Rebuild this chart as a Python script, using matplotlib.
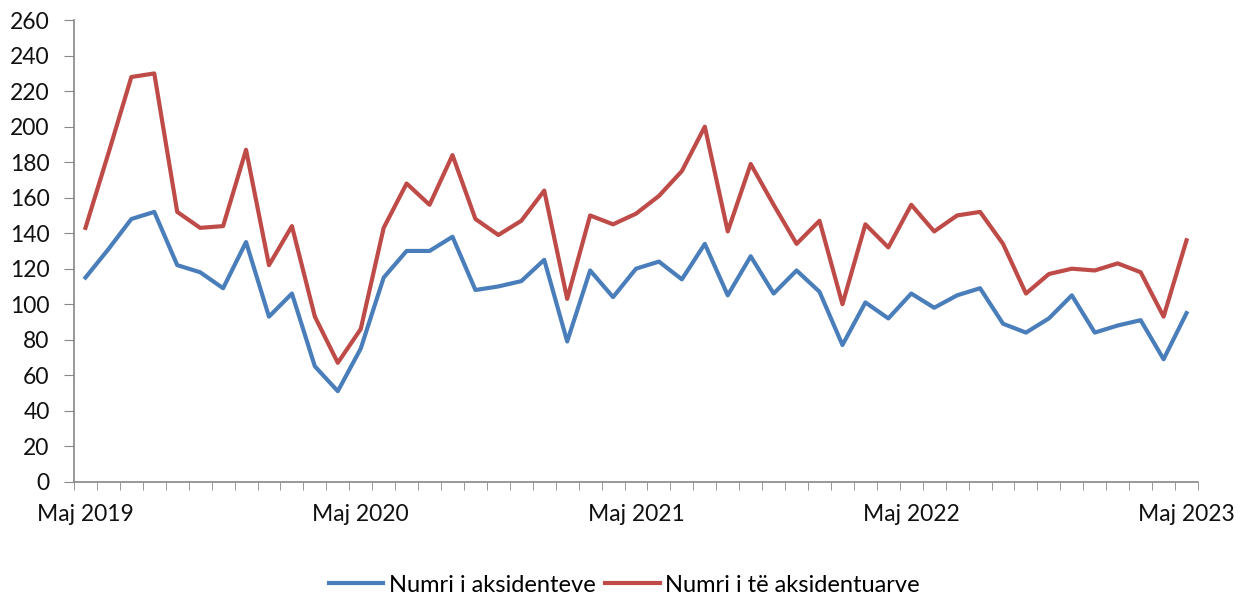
import matplotlib
matplotlib.use("Agg")
import matplotlib.pyplot as plt
import numpy as np

plt.rcParams['font.family'] = ['Lato', 'DejaVu Sans']

tick_labels = ["Maj 2019", "Maj 2020", "Maj 2021", "Maj 2022", "Maj 2023"]
tick_index = [0, 12, 24, 36, 48]

aksidente = [115, 131, 148, 152, 122, 118, 109, 135, 93, 106, 65, 51, 75, 115,
             130, 130, 138, 108, 110, 113, 125, 79, 119, 104, 120, 124, 114, 134,
             105, 127, 106, 119, 107, 77, 101, 92, 106, 98, 105, 109, 89,
             84, 92, 105, 84, 88, 91, 69, 95]
aksidentuar = [143, 185, 228, 230, 152, 143, 144, 187, 122, 144, 93, 67, 86, 143,
               168, 156, 184, 148, 139, 147, 164, 103, 150, 145, 151, 161, 175, 200,
               141, 179, 156, 134, 147, 100, 145, 132, 156, 141, 150, 152, 134,
               106, 117, 120, 119, 123, 118, 93, 136]

x = np.arange(len(aksidente))

fig = plt.figure(figsize=(12.49, 5.99), dpi=100)
ax = fig.add_axes([74/1249, 1-481.7/599, (1198-74)/1249, 461.5/599])

ax.plot(x, aksidente, color="#4a7ebb", lw=3.0, label="Numri i aksidenteve", solid_joinstyle='round')
ax.plot(x, aksidentuar, color="#be4b48", lw=3.0, label="Numri i të aksidentuarve", solid_joinstyle='round')

ax.set_xlim(-0.5, len(x) - 0.5)
ax.set_ylim(0, 260)
ax.set_yticks(np.arange(0, 261, 20))
ax.set_xticks(tick_index)
ax.set_xticklabels(tick_labels)
ax.set_xticks(np.arange(-0.5, len(x), 1), minor=True)

for s in ["top", "right"]:
    ax.spines[s].set_visible(False)
for s in ["left", "bottom"]:
    ax.spines[s].set_color("#888888")
    ax.spines[s].set_linewidth(1.2)

ax.tick_params(axis="y", which="major", direction="out", length=7.5, color="#888888",
               labelsize=16.5, pad=10, labelcolor="#111111")
ax.tick_params(axis="x", which="major", length=0, labelsize=16.5, pad=16, labelcolor="#111111")
ax.tick_params(axis="x", which="minor", direction="out", length=6, color="#888888")

leg = fig.legend(loc="center", bbox_to_anchor=(0.5, 1 - 585/599), ncol=2,
                 frameon=False, fontsize=17, handlelength=2.3, columnspacing=0.4,
                 handletextpad=0.25)

fig.savefig("out.png", dpi=100, facecolor="white")
